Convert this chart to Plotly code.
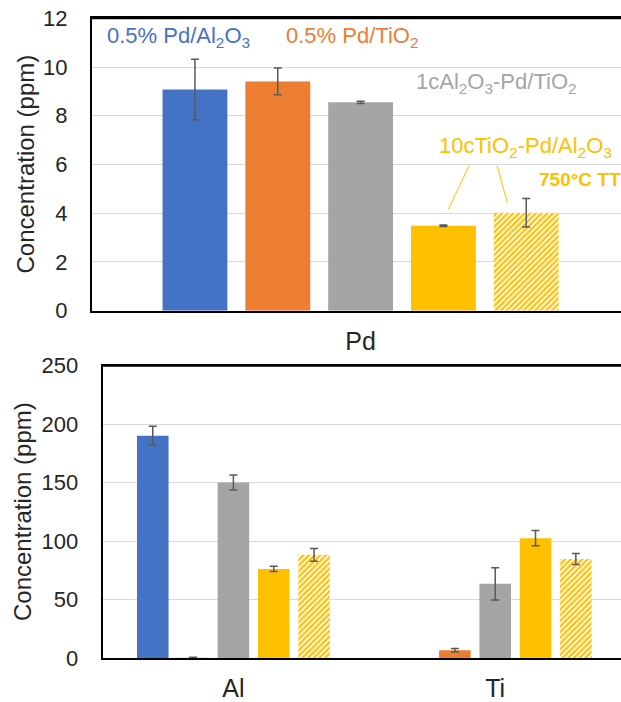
import plotly.graph_objects as go

W, H = 621, 702

# ---------------- data ----------------
samples = ["0.5% Pd/Al2O3", "0.5% Pd/TiO2", "1cAl2O3-Pd/TiO2", "10cTiO2-Pd/Al2O3", "10cTiO2-Pd/Al2O3 750C TT"]
colors = ["#4472C4", "#ED7D31", "#A5A5A5", "#FFC000", "#FFC000"]
hatched = [False, False, False, False, True]

pd_cat = ["Pd"]
pd_vals = [9.08, 9.41, 8.55, 3.49, 4.02]
pd_err = [1.24, 0.55, 0.05, 0.03, 0.58]

el_cats = ["Al", "Ti"]
al_vals = [190.2, 0.5, 150.2, 76.4, 88.4]
al_err = [8.0, 0.3, 6.5, 2.2, 5.4]
ti_vals = [None, 6.8, 63.6, 102.6, 84.9]
ti_err = [None, 1.5, 13.7, 6.5, 4.7]

top_ticks = [0, 2, 4, 6, 8, 10, 12]
bot_ticks = [0, 50, 100, 150, 200, 250]

FONT = "Liberation Sans, Arial, sans-serif"
TXT = "#262626"

def px(x):
    return x / W

def py(y):
    return 1 - y / H

fig = go.Figure()

def marker_for(i):
    if hatched[i]:
        return dict(color="#FFC000",
                    pattern=dict(shape="/", fgcolor="#FFC000", bgcolor="white",
                                 size=4, solidity=0.55, fillmode="replace"),
                    line=dict(width=0))
    return dict(color=colors[i], line=dict(width=0))

err_style = dict(type="data", color="#595959", thickness=1.5, width=4, visible=True)

for i in range(5):
    fig.add_trace(go.Bar(x=pd_cat, y=[pd_vals[i]], marker=marker_for(i),
                         error_y=dict(array=[pd_err[i]], **err_style),
                         xaxis="x", yaxis="y", showlegend=False, name=samples[i]))
for i in range(5):
    fig.add_trace(go.Bar(x=el_cats, y=[al_vals[i], ti_vals[i]], marker=marker_for(i),
                         error_y=dict(array=[al_err[i], ti_err[i]], **err_style),
                         xaxis="x2", yaxis="y2", showlegend=False, name=samples[i]))

ytick = dict(family=FONT, size=22, color=TXT)
xtick = dict(family=FONT, size=25, color=TXT)

fig.update_layout(
    width=W, height=H,
    margin=dict(l=0, r=0, t=0, b=0, autoexpand=False),
    paper_bgcolor="white", plot_bgcolor="white",
    barmode="group", bargap=0.23, bargroupgap=0.217,
    showlegend=False,
    xaxis=dict(domain=[px(91.7), 1], anchor="y", type="category",
               range=[-0.5, -0.5 + (W - 91.7) / 537.8], automargin=False,
               showline=True, linecolor="black", linewidth=1.8, mirror=True,
               ticks="", showgrid=False, ticklabelstandoff=7, tickfont=xtick),
    yaxis=dict(domain=[py(310.7), py(18.3)], anchor="x", range=[0, 12], automargin=False,
               tickvals=top_ticks, showgrid=True, gridcolor="#D9D9D9", gridwidth=1.3,
               showline=True, linecolor="black", linewidth=1.8,
               zeroline=False, ticks="", ticklabelstandoff=18, tickfont=ytick),
    xaxis2=dict(domain=[px(102.5), 1], anchor="y2", type="category",
                range=[-0.5, -0.5 + (W - 102.5) / 261.8], automargin=False,
                showline=True, linecolor="black", linewidth=1.8, mirror=True,
                ticks="", showgrid=False, ticklabelstandoff=7, tickfont=xtick),
    yaxis2=dict(domain=[py(658.3), py(365.7)], anchor="x2", range=[0, 250], automargin=False,
                tickvals=bot_ticks, showgrid=True, gridcolor="#D9D9D9", gridwidth=1.3,
                showline=True, linecolor="black", linewidth=1.8,
                zeroline=False, ticks="", ticklabelstandoff=18, tickfont=ytick),
)

ann = []
# y-axis titles
ann.append(dict(text="Concentration (ppm)", x=px(25), y=py(164.5), xref="paper", yref="paper",
                textangle=-90, showarrow=False, xanchor="center", yanchor="middle",
                font=dict(family=FONT, size=24, color=TXT)))
ann.append(dict(text="Concentration (ppm)", x=px(22), y=py(512), xref="paper", yref="paper",
                textangle=-90, showarrow=False, xanchor="center", yanchor="middle",
                font=dict(family=FONT, size=24, color=TXT)))

labels = [
    ("0.5% Pd/Al<sub>2</sub>O<sub>3</sub>", 105, 37, colors[0], 22),
    ("0.5% Pd/TiO<sub>2</sub>", 284.4, 37, colors[1], 22),
    ("1cAl<sub>2</sub>O<sub>3</sub>-Pd/TiO<sub>2</sub>", 414, 83, colors[2], 22),
    ("10cTiO<sub>2</sub>-Pd/Al<sub>2</sub>O<sub>3</sub>", 436.7, 147, colors[3], 22),
    ("<b>750°C TT</b>", 536.7, 180, colors[4], 19),
]
for t, x, y, c, s in labels:
    ann.append(dict(text=t, x=px(x), y=py(y), xref="paper", yref="paper", showarrow=False,
                    xanchor="left", yanchor="middle",
                    font=dict(family=FONT, size=s, color=c)))
fig.update_layout(annotations=ann)

# top frame lines of both plot areas
for xr, yr in [("x domain", "y domain"), ("x2 domain", "y2 domain")]:
    fig.add_shape(type="line", xref=xr, yref=yr, x0=0, x1=1, y0=1, y1=1,
                  line=dict(color="black", width=2))

# leader lines
for (x0, y0, x1, y1) in [(469, 166, 448.3, 209.3), (497.3, 166, 507.3, 202.7)]:
    fig.add_shape(type="line", xref="paper", yref="paper",
                  x0=px(x0), y0=py(y0), x1=px(x1), y1=py(y1),
                  line=dict(color="#FFC000", width=1))

fig.write_html("out.html")
